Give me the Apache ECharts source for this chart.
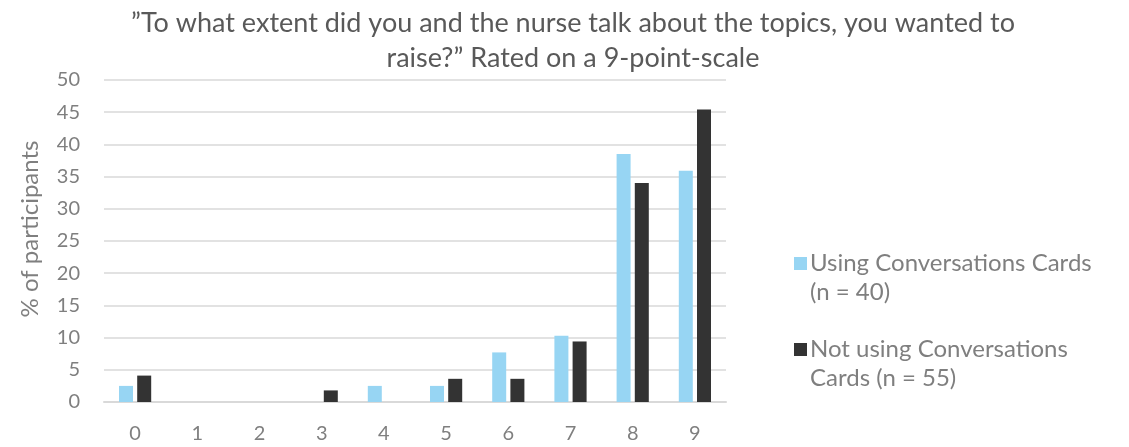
<!DOCTYPE html>
<html>
<head>
<meta charset="utf-8">
<script src="https://cdn.jsdelivr.net/npm/echarts@6/dist/echarts.min.js"></script>
<style>
  html, body { margin: 0; padding: 0; background: #fff; }
  #chart { width: 1129px; height: 447px; }
</style>
</head>
<body>
<div id="chart"></div>
<script>
const categories = ['0', '1', '2', '3', '4', '5', '6', '7', '8', '9']
const usingCards = [2.5, 0, 0, 0, 2.5, 2.5, 7.7, 10.3, 38.5, 35.9]
const notUsingCards = [4.1, 0, 0, 1.8, 0, 3.6, 3.6, 9.4, 34.0, 45.4]
const yTicks = { min: 0, max: 50, interval: 5 }

const chart = echarts.init(document.getElementById('chart'))
const font = 'Lato, "Open Sans", sans-serif'
// square sitting at the top of a taller box, so it lines up with the first text line
const legendIcon = 'path://M0,0L13,0L13,13L0,13Z M0,42L13,42'

chart.setOption({
  animation: false,
  title: {
    text: '\u201DTo what extent did you and the nurse talk about the topics, you wanted to\nraise?\u201D Rated on a 9-point-scale',
    left: 568,
    textAlign: 'center',
    top: 1,
    textStyle: {
      fontFamily: font,
      fontSize: 27,
      fontWeight: 'normal',
      color: '#595959',
      lineHeight: 35
    }
  },
  grid: { left: 104, right: 403, top: 80, bottom: 45 },
  legend: {
    orient: 'vertical',
    left: 789,
    top: 244,
    itemWidth: 13,
    itemHeight: 42,
    itemGap: 28,
    data: [
      { name: 'Using Conversations Cards (n = 40)', icon: legendIcon },
      { name: 'Not using Conversations Cards (n = 55)', icon: legendIcon }
    ],
    formatter: (name) => name === 'Using Conversations Cards (n = 40)'
      ? 'Using Conversations Cards\n(n = 40)'
      : 'Not using Conversations\nCards (n = 55)',
    textStyle: {
      fontFamily: font,
      fontSize: 24,
      color: '#7f7f7f',
      lineHeight: 29,
      padding: [0, 0, 0, -2]
    }
  },
  xAxis: {
    type: 'category',
    data: categories,
    axisTick: { show: false },
    axisLine: { lineStyle: { color: '#d9d9d9', width: 2 } },
    axisLabel: {
      fontFamily: font,
      fontSize: 20,
      color: '#7f7f7f',
      margin: 22
    }
  },
  yAxis: {
    type: 'value',
    min: yTicks.min,
    max: yTicks.max,
    interval: yTicks.interval,
    name: '% of participants',
    nameLocation: 'middle',
    nameGap: 62,
    nameTextStyle: {
      fontFamily: font,
      fontSize: 24,
      color: '#7f7f7f',
      padding: [0, 0, 0, 24]
    },
    axisLabel: {
      fontFamily: font,
      fontSize: 20,
      color: '#7f7f7f',
      margin: 24
    },
    splitLine: { lineStyle: { color: '#d9d9d9', width: 1.5 } }
  },
  series: [
    {
      name: 'Using Conversations Cards (n = 40)',
      type: 'bar',
      data: usingCards,
      barWidth: 14,
      barGap: '30%',
      itemStyle: { color: '#97d5f3' }
    },
    {
      name: 'Not using Conversations Cards (n = 55)',
      type: 'bar',
      data: notUsingCards,
      barWidth: 14,
      barGap: '30%',
      itemStyle: { color: '#333333' }
    }
  ]
})
</script>
</body>
</html>
